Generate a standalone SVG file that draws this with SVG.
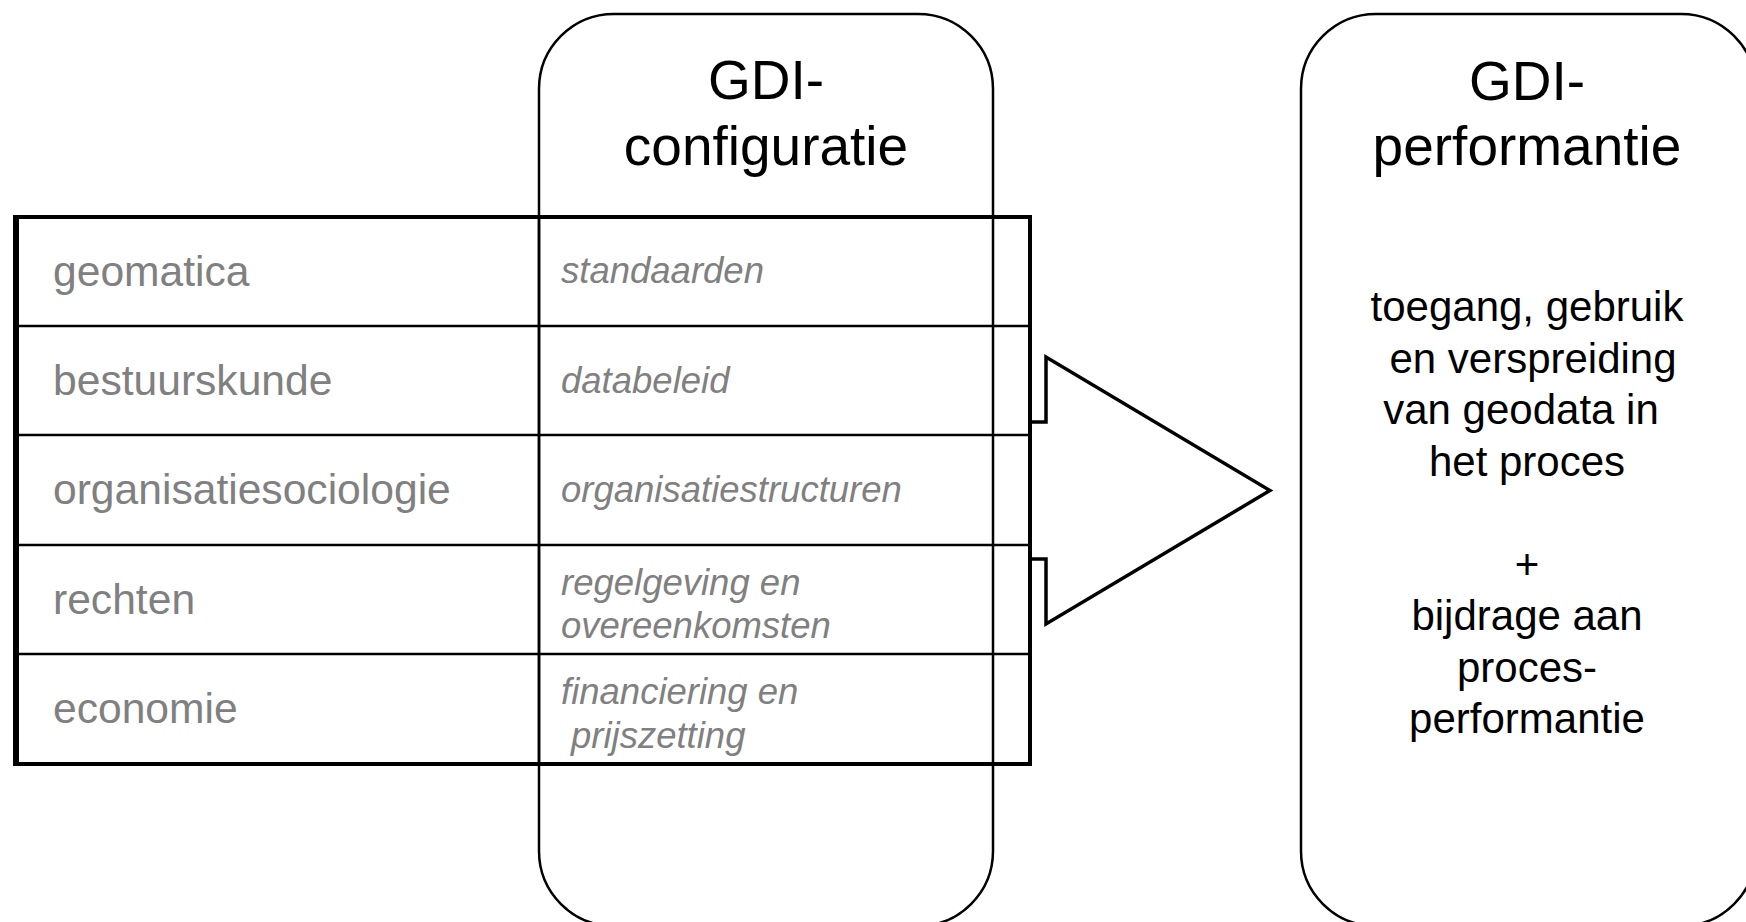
<svg xmlns="http://www.w3.org/2000/svg" width="1746" height="922" viewBox="0 0 1746 922">
<style>
.box{fill:#fff;stroke:#000;stroke-width:2.5}
.title{font-family:"Liberation Sans",Arial,sans-serif;font-size:55px;fill:#000;text-anchor:middle}
.body{font-family:"Liberation Sans",Arial,sans-serif;font-size:42px;fill:#000;text-anchor:middle}
.disc{font-family:"Liberation Sans",Arial,sans-serif;font-size:42.6px;fill:#808080}
.asp{font-family:"Liberation Sans",Arial,sans-serif;font-size:36.5px;font-style:italic;fill:#808080}
.grid{stroke:#000;stroke-width:2.5;fill:none}
</style>
<rect width="1746" height="922" fill="#fff"/>
<g id="node-configuratie">
<rect class="box" x="539" y="14" width="454" height="912" rx="75" ry="75"/>
<text class="title" x="766" y="99">GDI-</text>
<text class="title" x="766" y="165">configuratie</text>
</g>
<g id="node-performantie">
<rect class="box" x="1301" y="14" width="455" height="912" rx="75" ry="75"/>
<text class="title" x="1527" y="100">GDI-</text>
<text class="title" x="1527" y="165">performantie</text>
<text class="body" x="1527" y="321">toegang, gebruik</text>
<text class="body" x="1533" y="373">en verspreiding</text>
<text class="body" x="1521" y="424">van geodata in</text>
<text class="body" x="1527" y="476">het proces</text>
<text class="body" x="1527" y="579">+</text>
<text class="body" x="1527" y="630">bijdrage aan</text>
<text class="body" x="1527" y="682">proces-</text>
<text class="body" x="1527" y="733">performantie</text>
</g>
<g id="connectors">
<path d="M1030,422 H1046 V357 L1270,490.5 L1046,624 V559 H1030" fill="#fff" stroke="#000" stroke-width="3.5" stroke-linejoin="miter"/>
</g>
<g id="node-table">
<g class="grid">
<line x1="14" y1="326" x2="1030" y2="326"/>
<line x1="14" y1="435" x2="1030" y2="435"/>
<line x1="14" y1="545" x2="1030" y2="545"/>
<line x1="14" y1="654" x2="1030" y2="654"/>
<line x1="539" y1="217" x2="539" y2="764"/>
</g>
<rect x="15" y="217" width="1015" height="547" fill="none" stroke="#000" stroke-width="4"/>
<line x1="16" y1="215" x2="16" y2="766" stroke="#000" stroke-width="6"/>
<text class="disc" x="53" y="286">geomatica</text>
<text class="disc" x="53" y="395">bestuurskunde</text>
<text class="disc" x="53" y="504">organisatiesociologie</text>
<text class="disc" x="53" y="614">rechten</text>
<text class="disc" x="53" y="723">economie</text>
<text class="asp" x="561" y="283">standaarden</text>
<text class="asp" x="561" y="393">databeleid</text>
<text class="asp" x="561" y="502">organisatiestructuren</text>
<text class="asp" x="561" y="595">regelgeving en</text>
<text class="asp" x="561" y="638">overeenkomsten</text>
<text class="asp" x="561" y="704">financiering en</text>
<text class="asp" x="571" y="748">prijszetting</text>
</g>
</svg>
